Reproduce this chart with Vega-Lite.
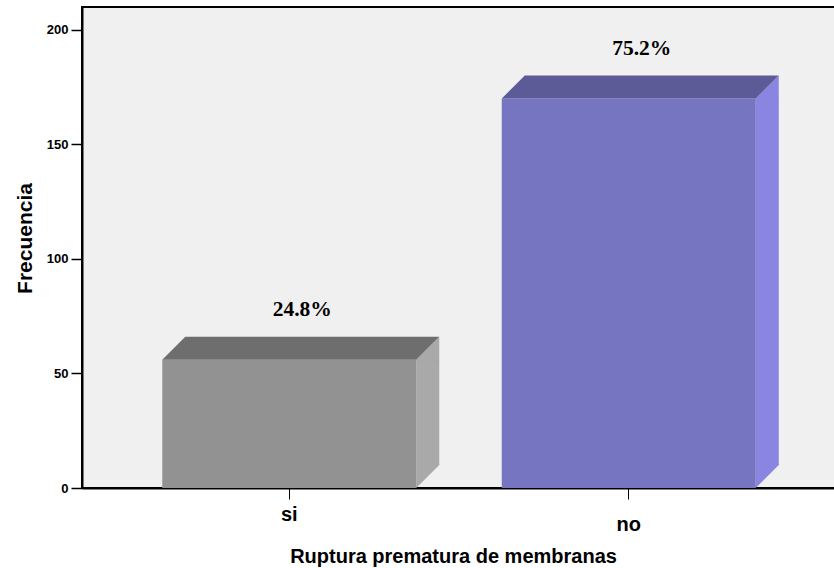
{
  "$schema": "https://vega.github.io/schema/vega-lite/v6.json",
  "width": 754,
  "height": 481,
  "autosize": {"type": "none"},
  "padding": {"left": 82, "top": 7, "right": 0, "bottom": 80},
  "background": "#FFFFFF",
  "config": {
    "view": {"fill": "#F0F0F0", "stroke": "#000000", "strokeWidth": 2},
    "axis": {
      "labelFont": "Liberation Sans",
      "titleFont": "Liberation Sans",
      "labelColor": "#000000",
      "titleColor": "#000000",
      "labelFontWeight": "bold",
      "titleFontWeight": "bold",
      "tickColor": "#000000",
      "domainColor": "#000000",
      "domainWidth": 2,
      "grid": false
    }
  },
  "data": {
    "values": [
      {"ruptura": "si", "frecuencia": 56, "porcentaje": 24.8},
      {"ruptura": "no", "frecuencia": 170, "porcentaje": 75.2}
    ]
  },
  "encoding": {
    "x": {
      "field": "ruptura",
      "type": "nominal",
      "sort": ["si", "no"],
      "scale": {"paddingInner": 0.0045, "paddingOuter": 0.1127},
      "axis": {
        "title": "Ruptura prematura de membranas",
        "titleFontSize": 20,
        "titleBaseline": "alphabetic",
        "titleX": 371,
        "titleY": 74,
        "labelFontSize": 20,
        "labelAngle": 0,
        "labelBaseline": "alphabetic",
        "labelPadding": {"condition": {"test": "datum.value === 'no'", "value": 31}, "value": 21},
        "tickSize": 11,
        "tickWidth": 1
      }
    },
    "y": {
      "field": "frecuencia",
      "type": "quantitative",
      "scale": {"domain": [0, 210], "nice": false},
      "axis": {
        "title": "Frecuencia",
        "titleFontSize": 21,
        "titleBaseline": "alphabetic",
        "titleAngle": -90,
        "titleX": -51,
        "titleY": 231,
        "labelFontSize": 13,
        "labelPadding": 3,
        "values": [0, 50, 100, 150, 200],
        "tickSize": 11,
        "tickWidth": 1.5
      }
    }
  },
  "layer": [
    {
      "mark": {"type": "bar", "width": 23, "xOffset": 138.5, "y2Offset": -23},
      "encoding": {
        "y2": {"datum": 0},
        "color": {"field": "ruptura", "type": "nominal", "legend": null,
          "scale": {"domain": ["si", "no"], "range": ["#A9A9A9", "#8985E0"]}}
      }
    },
    {
      "mark": {"type": "point", "shape": "M127,0L150,-23L150,1L127,1Z", "size": 4, "filled": true, "opacity": 1, "strokeWidth": 0},
      "encoding": {
        "color": {"field": "ruptura", "type": "nominal", "legend": null,
          "scale": {"domain": ["si", "no"], "range": ["#A9A9A9", "#8985E0"]}}
      }
    },
    {
      "mark": {"type": "point", "shape": "M127,-24L150,-24L150,-23L127,0Z", "size": 4, "filled": true, "opacity": 1, "strokeWidth": 0},
      "encoding": {
        "y": {"datum": 0, "type": "quantitative"},
        "color": {"field": "ruptura", "type": "nominal", "legend": null,
          "scale": {"domain": ["si", "no"], "range": ["#A9A9A9", "#8985E0"]}}
      }
    },
    {
      "mark": {"type": "bar", "width": 254},
      "encoding": {
        "color": {"field": "ruptura", "type": "nominal", "legend": null,
          "scale": {"domain": ["si", "no"], "range": ["#929292", "#7675C2"]}}
      }
    },
    {
      "mark": {"type": "point", "shape": "M-127,0L127,0L150,-23L-104,-23Z", "size": 4, "filled": true, "opacity": 1, "strokeWidth": 0},
      "encoding": {
        "color": {"field": "ruptura", "type": "nominal", "legend": null,
          "scale": {"domain": ["si", "no"], "range": ["#6E6E6E", "#5D5B97"]}}
      }
    },
    {
      "transform": [{"calculate": "format(datum.porcentaje, '.1f') + '%'", "as": "etiqueta"}],
      "mark": {"type": "text", "font": "Liberation Serif", "fontSize": 21.5, "fontWeight": "bold",
        "color": "#000000", "align": "center", "baseline": "alphabetic", "dx": 13, "dy": -44},
      "encoding": {"text": {"field": "etiqueta"}}
    }
  ],
  "resolve": {"scale": {"color": "independent"}}
}
